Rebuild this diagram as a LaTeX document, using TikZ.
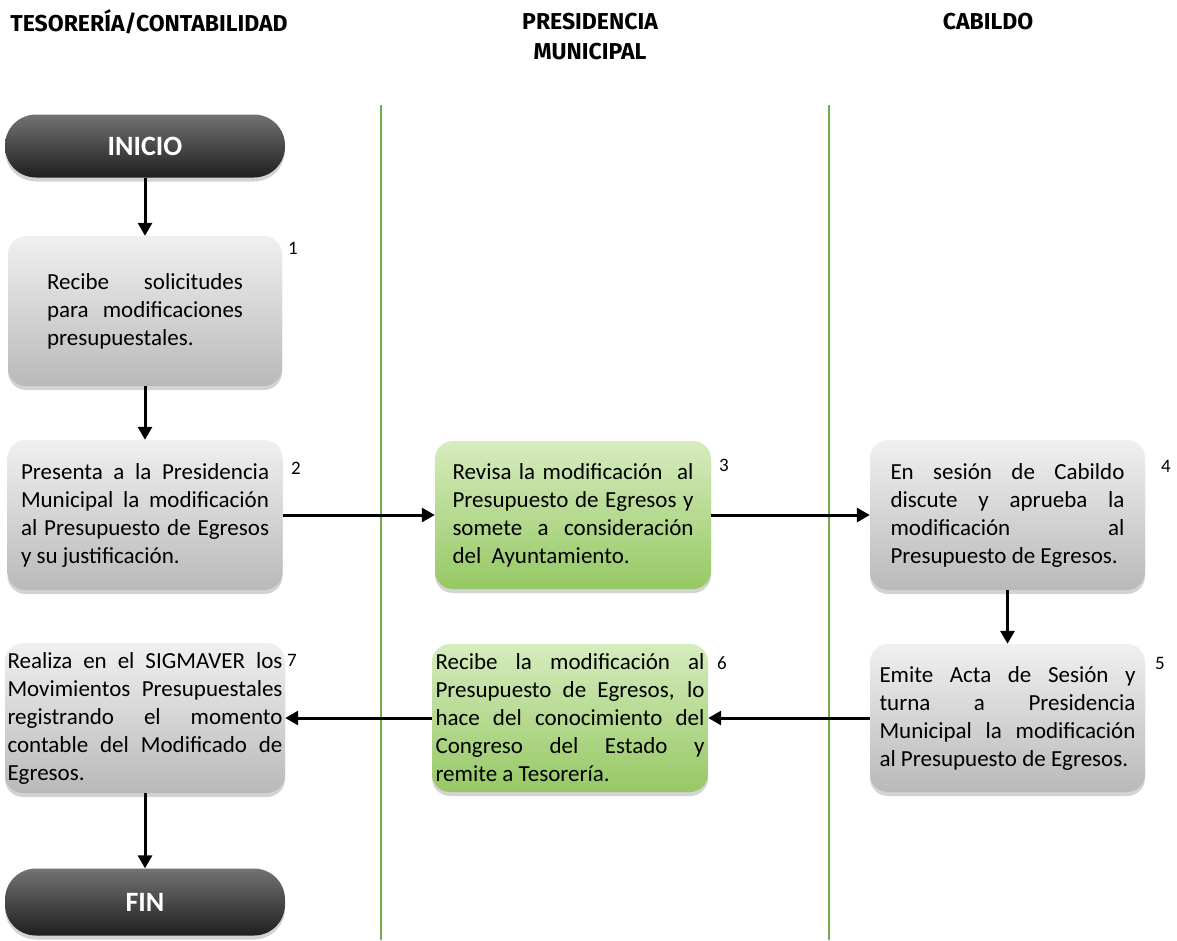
\documentclass[tikz,border=0pt]{standalone}
\usepackage{fontspec}
\setmainfont{Carlito}
\newfontfamily\headfont{Fira Sans}
\usetikzlibrary{shadows,arrows.meta}

\definecolor{lanegreen}{RGB}{112,173,71}
\definecolor{boxgreenT}{RGB}{214,236,190}
\definecolor{boxgreenM}{RGB}{176,214,136}
\definecolor{boxgreenB}{RGB}{150,200,100}
\definecolor{boxgrayT}{RGB}{240,240,240}
\definecolor{boxgrayM}{RGB}{208,208,208}
\definecolor{boxgrayB}{RGB}{185,185,185}

\tikzset{
  lanehead/.style={font=\headfont\bfseries\fontsize{23}{30}\selectfont, align=center},
  laneline/.style={lanegreen, line width=2pt},
  terminal/.style={draw=none, rounded corners=31pt, minimum width=280pt, minimum height=63pt,
    top color=black!55, middle color=black!75, bottom color=black!88,
    text=white, font=\bfseries\fontsize{28}{30}\selectfont,
    drop shadow={shadow xshift=0pt, shadow yshift=-4pt, opacity=0.35}},
  stepbase/.style={draw=none, rounded corners=18pt, minimum height=150pt, inner sep=0pt,
    align=justify, font=\fontsize{23}{28}\selectfont,
    drop shadow={shadow xshift=0pt, shadow yshift=-4pt, opacity=0.35}},
  graystep/.style={stepbase, top color=boxgrayT, middle color=boxgrayM, bottom color=boxgrayB},
  greenstep/.style={stepbase, top color=boxgreenT, middle color=boxgreenM, bottom color=boxgreenB},
  stepnum/.style={font=\fontsize{19}{20}\selectfont, inner sep=0pt},
  flow/.style={line width=3pt, -{Triangle[length=13pt,width=14pt]}},
}

\begin{document}
\begin{tikzpicture}[x=1pt, y=-1pt]
\useasboundingbox (0,0) rectangle (1177,940);

% lane titles
\node[lanehead] (h1) at (149,22) {TESORERÍA/CONTABILIDAD};
\node[lanehead] (h2) at (590,37) {PRESIDENCIA\\MUNICIPAL};
\node[lanehead] (h3) at (988,22) {CABILDO};

% lane separators
\draw[laneline] (381,105) -- (381,940);
\draw[laneline] (829,105) -- (829,940);

% start and end
\node[terminal] (ini) at (145,146) {INICIO};
\node[terminal, minimum height=67pt] (fin) at (145,902) {FIN};

% steps
\node[graystep, minimum width=274pt, text width=196pt] (s1) at (145,311)
  {Recibe solicitudes\linebreak para modificaciones\linebreak presupuestales.};
\node[graystep, minimum width=275pt, text width=248pt] (s2) at (145,515)
  {Presenta a la Presidencia\linebreak Municipal la modificación\linebreak al Presupuesto de Egresos\linebreak y su justificación.};
\node[greenstep, minimum width=276pt, minimum height=148pt, text width=241pt] (s3) at (573,515)
  {Revisa la modificación\ \ al\linebreak Presupuesto de Egresos y\linebreak somete a consideración\linebreak del\ \ Ayuntamiento.};
\node[graystep, minimum width=275pt, text width=234pt] (s4) at (1007.5,515)
  {En sesión de Cabildo\linebreak discute y aprueba la\linebreak modificación al\linebreak Presupuesto de Egresos.};
\node[graystep, minimum width=275pt, minimum height=148pt, text width=256pt] (s5) at (1007.5,718)
  {Emite Acta de Sesión y\linebreak turna a Presidencia\linebreak Municipal la modificación\linebreak al Presupuesto de Egresos.};
\node[greenstep, minimum width=276pt, minimum height=148pt, text width=269pt] (s6) at (570,718)
  {Recibe la modificación al\linebreak Presupuesto de Egresos, lo\linebreak hace del conocimiento del\linebreak Congreso del Estado y\linebreak remite a Tesorería.};
\node[graystep, minimum width=280pt, text width=275pt] (s7) at (145,718)
  {Realiza en el SIGMAVER los\linebreak Movimientos Presupuestales\linebreak registrando el momento\linebreak contable del Modificado de\linebreak Egresos.};

% step numbers
\node[stepnum] (n1) at (293,248) {1};
\node[stepnum] (n2) at (296,468) {2};
\node[stepnum] (n3) at (724,465) {3};
\node[stepnum] (n4) at (1166,466) {4};
\node[stepnum] (n5) at (1160,663) {5};
\node[stepnum] (n6) at (722,663) {6};
\node[stepnum] (n7) at (292,660) {7};

% connectors
\draw[flow] (ini.south) -- (s1.north);
\draw[flow] (s1.south) -- (s2.north);
\draw[flow] (s2.east) -- (s3.west);
\draw[flow] (s3.east) -- (s4.west);
\draw[flow] (s4.south) -- (s5.north);
\draw[flow] (s5.west) -- (s6.east);
\draw[flow] (s6.west) -- (s7.east);
\draw[flow] (s7.south) -- (fin.north);
\end{tikzpicture}
\end{document}
